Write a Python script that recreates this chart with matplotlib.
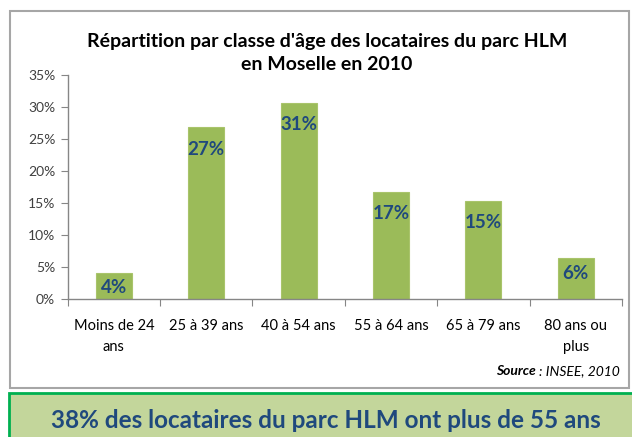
import matplotlib
matplotlib.use("Agg")
import matplotlib.pyplot as plt
from matplotlib.patches import Rectangle
from matplotlib.ticker import FixedLocator, PercentFormatter

plt.rcParams['font.family'] = ['Lato', 'DejaVu Sans']

categories = ["Moins de 24\nans", "25 à 39 ans", "40 à 54 ans",
              "55 à 64 ans", "65 à 79 ans", "80 ans ou\nplus"]
shares = [4.0, 26.8, 30.6, 16.7, 15.3, 6.3]
y_ticks = [0, 5, 10, 15, 20, 25, 30, 35]

title = "Répartition par classe d'âge des locataires du parc HLM\nen Moselle en 2010"
headline = "38% des locataires du parc HLM ont plus de 55 ans"

W, H = 632, 437
fig = plt.figure(figsize=(W / 100, H / 100), dpi=100)
fig.patch.set_facecolor("white")

# outer chart frame
fig.patches.append(Rectangle((10 / W, 1 - 388 / H), 619 / W, 377 / H,
                             transform=fig.transFigure, facecolor="white",
                             edgecolor="#a6a6a6", linewidth=1.5, zorder=0))

# headline banner
fig.patches.append(Rectangle((9 / W, -0.02), 640 / W, 1 - 393 / H + 0.02,
                             transform=fig.transFigure, facecolor="#c3d69b",
                             edgecolor="#00b050", linewidth=2, zorder=0))
fig.text(326 / W, 1 - 420 / H, headline, ha="center", va="center",
         fontsize=17.5, fontweight="bold", color="#1f497d")

ax = fig.add_axes([67.7 / W, 1 - 298.5 / H, (622 - 67.7) / W, (298.5 - 75) / H])
ax.set_zorder(2)
ax.set_facecolor("none")

x = range(len(categories))
ax.bar(x, shares, width=0.39, color="#9bbb59", edgecolor="#a9c46b",
       linewidth=0.8, zorder=2)
for xi, v in zip(x, shares):
    drop = 2.35 if v < 10 else 3.4   # short bars keep their label inside
    ax.text(xi, v - drop, f"{v:.0f}%", ha="center", va="center",
            fontsize=13.5, fontweight="bold", color="#1f497d", zorder=3)

ax.set_xlim(-0.5, len(categories) - 0.5)
ax.set_ylim(0, 35)
ax.yaxis.set_major_locator(FixedLocator(y_ticks))
ax.yaxis.set_major_formatter(PercentFormatter(decimals=0))
ax.tick_params(axis="y", direction="out", length=5, color="#868686",
               labelsize=10, labelcolor="#404040", pad=4)

# category ticks at the boundaries, labels centred under the bars
ax.set_xticks([i - 0.5 for i in range(len(categories) + 1)])
ax.set_xticklabels([])
ax.set_xticks(list(x), minor=True)
ax.set_xticklabels(categories, minor=True, fontsize=10.5, color="black",
                   linespacing=1.6)
ax.tick_params(axis="x", which="major", direction="out", length=5,
               color="#868686")
ax.tick_params(axis="x", which="minor", length=0, pad=15)

for side in ("top", "right"):
    ax.spines[side].set_visible(False)
for side in ("left", "bottom"):
    ax.spines[side].set_color("#868686")
    ax.spines[side].set_linewidth(1)

fig.text(327 / W, 1 - 53 / H, title, ha="center", va="center",
         fontsize=14, fontweight="bold", color="black", linespacing=1.45)

# source note: bold italic "Source", then italic remainder
src = fig.text(620 / W, 1 - 371 / H, ": INSEE, 2010", ha="right", va="center",
               fontsize=10, style="italic", color="black")
fig.canvas.draw()
bb = src.get_window_extent()
fig.text((bb.x0 - 3) / W, 1 - 371 / H, "Source", ha="right", va="center",
         fontsize=10, style="italic", fontweight="bold", color="black")

fig.savefig("out.png", dpi=100)
